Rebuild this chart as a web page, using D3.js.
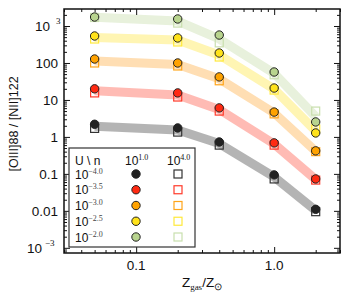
<!DOCTYPE html>
<html>
<head>
<meta charset="utf-8">
<script src="https://cdn.jsdelivr.net/npm/d3@7"></script>
<style>
body { margin: 0; background: #fff; }
text { font-family: "Liberation Sans", Arial, sans-serif; fill: #111; }
.ax path, .ax line { stroke: #111; }
</style>
</head>
<body>
<div id="chart"></div>
<script>
// metallicity (Z_gas / Z_sun)
var zgas = [0.05, 0.2, 0.4, 1.0, 2.0];
var uExp = ["\u22124.0", "\u22123.5", "\u22123.0", "\u22122.5", "\u22122.0"];
var nExp = ["1.0", "4.0"];
// [OIII]88/[NII]122 for n = 10^1 (circles)
var lowN = [
    [2.2, 1.75, 0.73, 0.094, 0.011],
    [20, 15.5, 6.1, 0.69, 0.073],
    [128, 100, 42, 4.7, 0.42],
    [537, 475, 186, 21, 1.28],
    [1750, 1550, 570, 57, 2.54]
];
// n = 10^4 (squares)
var highN = [
    [1.7, 1.35, 0.6, 0.073, 0.0095],
    [15.5, 12, 5, 0.6, 0.068],
    [100, 83, 33, 4.2, 0.40],
    [445, 370, 145, 18.5, 1.64],
    [1700, 1200, 350, 48, 5.0]
];
var yTicks = [1e-3, 0.01, 0.1, 1, 10, 100, 1e3];
var xTicks = [0.1, 1.0];

var fillC = ["#222222", "#ff2a12", "#ffa200", "#ffe21a", "#b8d48e"];
var sqC = ["#333333", "#ff3a2a", "#ffa51a", "#ffe93a", "#c9dfae"];
var bandC = ["#a8a8a8", "#ffb0a8", "#ffd9a6", "#fff4a6", "#e4efd6"];

var W = 349, H = 299;
var L = 64, R = 340, T = 9, B = 253;

var svg = d3.select("#chart").append("svg").attr("width", W).attr("height", H);

var x = d3.scaleLog().domain([0.03, 3]).range([L, R]);
var y = d3.scaleLog().domain([Math.pow(10, -3.14), Math.pow(10, 3.46)]).range([B, T]);

var clip = svg.append("clipPath").attr("id", "clip").append("rect")
    .attr("x", L).attr("y", T).attr("width", R - L).attr("height", B - T);
var plot = svg.append("g").attr("clip-path", "url(#clip)");

// bands
for (var i = 0; i < lowN.length; i++) {
    var mid = zgas.map(function(z, j) { return [z, Math.sqrt(lowN[i][j] * highN[i][j])]; });
    var area = d3.area()
        .x(function(d, j) { return x(zgas[j]); })
        .y0(function(d, j) { return y(lowN[i][j]); })
        .y1(function(d, j) { return y(highN[i][j]); });
    var g = plot.append("g").attr("opacity", 0.85);
    g.append("path").attr("d", area(zgas)).attr("fill", bandC[i]);
    g.append("path")
        .attr("d", d3.line().x(function(d) { return x(d[0]); }).y(function(d) { return y(d[1]); })(mid))
        .attr("fill", "none").attr("stroke", bandC[i]).attr("stroke-width", 9)
        .attr("stroke-linejoin", "round");
}

// points
for (var i = 0; i < lowN.length; i++) {
    plot.selectAll(null).data(highN[i]).enter().append("rect")
        .attr("x", function(d, j) { return x(zgas[j]) - 4; })
        .attr("y", function(d) { return y(d) - 4; })
        .attr("width", 8).attr("height", 8)
        .attr("fill", "none").attr("stroke", sqC[i]).attr("stroke-width", 1.2);
    plot.selectAll(null).data(lowN[i]).enter().append("circle")
        .attr("cx", function(d, j) { return x(zgas[j]); })
        .attr("cy", function(d) { return y(d); })
        .attr("r", 4.2)
        .attr("fill", fillC[i]).attr("stroke", "#222").attr("stroke-width", 1);
}

// minor ticks
var yMinor = y.ticks(30).filter(function(v) {
    var l = Math.log10(v); return Math.abs(l - Math.round(l)) > 1e-6;
});
var xMinor = x.ticks(30).filter(function(v) {
    var l = Math.log10(v); return Math.abs(l - Math.round(l)) > 1e-6;
});

function axisSet(axisFn, scale, major, minor, tr) {
    svg.append("g").attr("class", "ax").attr("transform", tr)
        .call(axisFn(scale).tickValues(minor).tickSize(-3).tickFormat(""))
        .call(function(g) { g.select(".domain").remove(); });
    svg.append("g").attr("class", "ax").attr("transform", tr)
        .call(axisFn(scale).tickValues(major).tickSize(-6).tickSizeOuter(0).tickFormat(""))
        .call(function(g) { g.select(".domain").remove(); });
}
axisSet(d3.axisLeft, y, yTicks, yMinor, "translate(" + L + ",0)");
axisSet(d3.axisRight, y, yTicks, yMinor, "translate(" + R + ",0)");
axisSet(d3.axisBottom, x, xTicks, xMinor, "translate(0," + B + ")");
axisSet(d3.axisTop, x, xTicks, xMinor, "translate(0," + T + ")");
svg.selectAll(".ax line").attr("stroke-width", 1);

svg.append("rect").attr("x", L).attr("y", T).attr("width", R - L).attr("height", B - T)
    .attr("fill", "none").attr("stroke", "#111").attr("stroke-width", 1.5);

// y tick labels
yTicks.forEach(function(v) {
    var l = Math.round(Math.log10(v));
    var t = svg.append("text").attr("y", y(v) + 5).attr("font-size", 13.5);
    if (Math.abs(l) >= 3) {
        t.attr("x", l < 0 ? 27 : 35).attr("text-anchor", "start").text("10");
        svg.append("text").attr("x", l < 0 ? 45 : 56).attr("y", y(v) - 2)
            .attr("font-size", 9).attr("fill", "#555")
            .style("font-family", "'Liberation Serif', serif")
            .text(l < 0 ? "\u22123" : "3");
    } else {
        t.attr("x", 58).attr("text-anchor", "end").text(d3.format("~g")(v));
    }
});

// x tick labels
xTicks.forEach(function(v) {
    svg.append("text").attr("x", x(v)).attr("y", 270).attr("text-anchor", "middle")
        .attr("font-size", 13.5).text(d3.format(".1f")(v));
});

// axis titles
var xt = svg.append("text").attr("x", 202).attr("y", 287).attr("text-anchor", "middle").attr("font-size", 13.5);
xt.append("tspan").text("Z");
xt.append("tspan").attr("dy", 3).attr("font-size", 9).style("font-family", "'Liberation Serif', serif").text("gas");
xt.append("tspan").attr("dy", -3).text("/Z");
xt.append("tspan").attr("dy", 3).attr("font-size", 10).text("\u2299");

svg.append("text").attr("transform", "translate(18,124) rotate(-90)")
    .attr("text-anchor", "middle").attr("font-size", 12.5).text("[OIII]88 / [NII]122");

// legend
var lg = svg.append("g");
lg.append("rect").attr("x", 69).attr("y", 148).attr("width", 126).attr("height", 99)
    .attr("fill", "#fff").attr("stroke", "#333").attr("stroke-width", 1.2);
lg.append("text").attr("x", 75).attr("y", 165).attr("font-size", 12).text("U \\ n");
var colX = [136, 178];
nExp.forEach(function(e, k) {
    var t = lg.append("text").attr("x", colX[k] - 11).attr("y", 165).attr("font-size", 12);
    t.append("tspan").text("10");
    t.append("tspan").attr("dy", -5).attr("font-size", 8)
        .style("font-family", "'Liberation Serif', serif").text(e);
});
var rowY = d3.scaleLinear().domain([0, 4]).range([174, 237]);
uExp.forEach(function(e, i) {
    var t = lg.append("text").attr("x", 75).attr("y", rowY(i) + 4.5).attr("font-size", 12);
    t.append("tspan").text("10");
    t.append("tspan").attr("dy", -5).attr("font-size", 8).attr("fill", "#444")
        .style("font-family", "'Liberation Serif', serif").text(e);
    lg.append("circle").attr("cx", colX[0]).attr("cy", rowY(i)).attr("r", 4.2)
        .attr("fill", fillC[i]).attr("stroke", "#222");
    lg.append("rect").attr("x", colX[1] - 4).attr("y", rowY(i) - 4).attr("width", 8).attr("height", 8)
        .attr("fill", "none").attr("stroke", sqC[i]).attr("stroke-width", 1.2);
});
</script>
</body>
</html>
